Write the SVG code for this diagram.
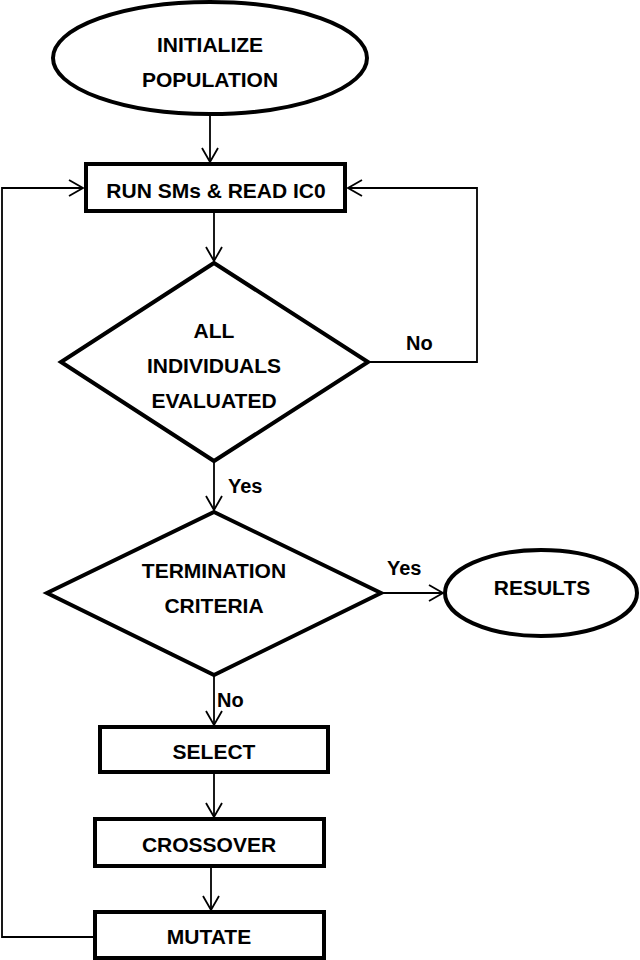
<svg xmlns="http://www.w3.org/2000/svg" width="640" height="960" viewBox="0 0 640 960">
<style>
.shape{fill:#fff;stroke:#000;stroke-width:4}
.conn{fill:none;stroke:#000;stroke-width:1.8}
.t{font-family:"Liberation Sans",Arial,sans-serif;font-weight:bold;font-size:21px;text-anchor:middle;fill:#000}
.lbl{font-family:"Liberation Sans",Arial,sans-serif;font-weight:bold;font-size:20px;fill:#000}
</style>
<defs>
<marker id="arr" viewBox="-16 -10 18 20" refX="0" refY="0" markerWidth="18" markerHeight="20" markerUnits="userSpaceOnUse" orient="auto">
<path d="M-14,-8 L0,0 L-14,8" fill="none" stroke="#000" stroke-width="1.8"/>
</marker>
</defs>
<rect width="640" height="960" fill="#fff"/>
<g id="connectors">
<line class="conn" x1="210" y1="116" x2="210" y2="162" marker-end="url(#arr)"/>
<line class="conn" x1="214" y1="213" x2="214" y2="261" marker-end="url(#arr)"/>
<polyline class="conn" points="368,362 477,362 477,188 348,188" marker-end="url(#arr)"/>
<line class="conn" x1="214" y1="462" x2="214" y2="510" marker-end="url(#arr)"/>
<line class="conn" x1="382" y1="593" x2="443" y2="593" marker-end="url(#arr)"/>
<line class="conn" x1="214" y1="676" x2="214" y2="725" marker-end="url(#arr)"/>
<line class="conn" x1="214" y1="774" x2="214" y2="817" marker-end="url(#arr)"/>
<line class="conn" x1="211" y1="868" x2="211" y2="910" marker-end="url(#arr)"/>
<polyline class="conn" points="95,937 2,937 2,188 83,188" marker-end="url(#arr)"/>
<text class="lbl" x="406" y="350">No</text>
<text class="lbl" x="228" y="493">Yes</text>
<text class="lbl" x="387" y="575">Yes</text>
<text class="lbl" x="217" y="707">No</text>
</g>
<g id="initialize">
<ellipse class="shape" cx="210" cy="58" rx="157" ry="56"/>
<text class="t" x="210" y="52">INITIALIZE</text>
<text class="t" x="210" y="87">POPULATION</text>
</g>
<g id="run">
<rect class="shape" x="86" y="164" width="259" height="47"/>
<text class="t" x="216" y="198">RUN SMs &amp; READ IC0</text>
</g>
<g id="evaluated">
<polygon class="shape" points="214,263 368,362 214,461 61,362"/>
<text class="t" x="214" y="338">ALL</text>
<text class="t" x="214" y="373">INDIVIDUALS</text>
<text class="t" x="214" y="408">EVALUATED</text>
</g>
<g id="termination">
<polygon class="shape" points="214,512 381,593 214,675 47,593"/>
<text class="t" x="214" y="578">TERMINATION</text>
<text class="t" x="214" y="613">CRITERIA</text>
</g>
<g id="results">
<ellipse class="shape" cx="541" cy="593" rx="96" ry="43"/>
<text class="t" x="542" y="595">RESULTS</text>
</g>
<g id="select">
<rect class="shape" x="100" y="727" width="228" height="45"/>
<text class="t" x="214" y="759">SELECT</text>
</g>
<g id="crossover">
<rect class="shape" x="95" y="819" width="229" height="47"/>
<text class="t" x="209" y="852">CROSSOVER</text>
</g>
<g id="mutate">
<rect class="shape" x="95" y="912" width="229" height="46"/>
<text class="t" x="209" y="944">MUTATE</text>
</g>
</svg>
